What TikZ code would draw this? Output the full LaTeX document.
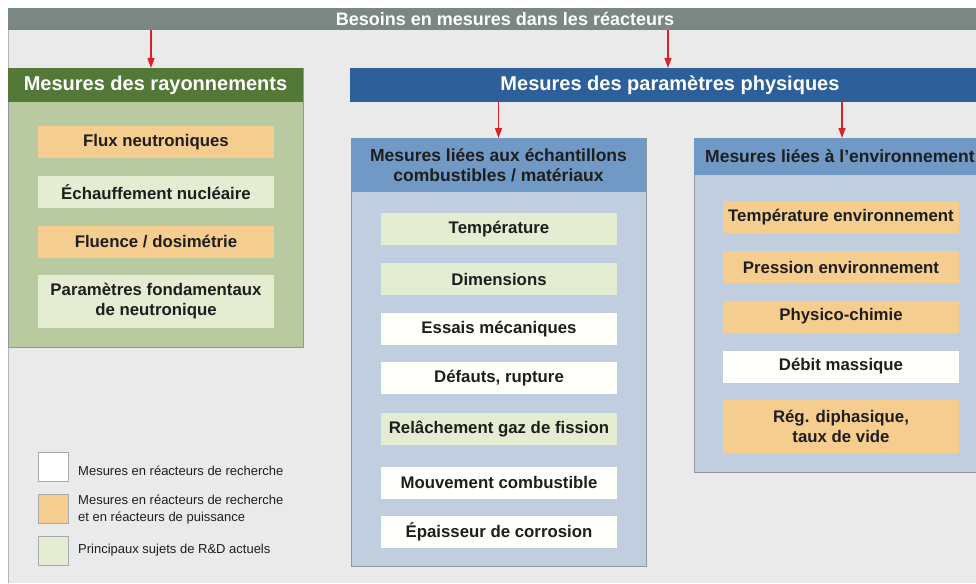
\documentclass[tikz,border=0pt]{standalone}
\usepackage{fontspec}
\setmainfont{Liberation Sans}
\usetikzlibrary{arrows.meta}
\definecolor{bgc}{HTML}{EAEAEA}
\definecolor{barc}{HTML}{7B8785}
\definecolor{gheadc}{HTML}{537838}
\definecolor{gbodyc}{HTML}{B9CAA1}
\definecolor{bheadc}{HTML}{2D5F9B}
\definecolor{sheadc}{HTML}{7099C5}
\definecolor{sbodyc}{HTML}{C1CEE0}
\definecolor{orngc}{HTML}{F5CE8F}
\definecolor{lgrnc}{HTML}{E4EDD1}
\definecolor{whtc}{HTML}{FFFFFC}
\definecolor{arrc}{HTML}{D8232A}
\definecolor{txtc}{HTML}{1E1E1E}
\definecolor{edgec}{HTML}{8F979D}
\begin{document}
\begin{tikzpicture}[x=1pt,y=-1pt,
  box/.style={rectangle, inner sep=0pt, outer sep=0pt, anchor=north west},
  panel/.style={box, draw=edgec, line width=0.8pt},
  item/.style={rectangle, inner sep=0pt, outer sep=0pt, minimum width=236pt, minimum height=32pt,
     font=\fontsize{16.8}{20}\selectfont\bfseries, text=txtc, align=center},
  tall/.style={minimum height=53pt},
  orng/.style={item, fill=orngc},
  lgrn/.style={item, fill=lgrnc},
  wht/.style={item, fill=whtc},
  hdr/.style={font=\fontsize{20}{24}\selectfont\bfseries, text=white},
  shdr/.style={font=\fontsize{17.5}{20}\selectfont\bfseries, text=txtc, align=center},
  legbox/.style={rectangle, inner sep=0pt, minimum width=30pt, minimum height=29pt, draw=edgec!80, line width=0.8pt},
  legtxt/.style={anchor=west, inner sep=0pt, font=\fontsize{13}{17}\selectfont, text=txtc, align=left},
  arr/.style={draw=arrc, line width=1.3pt, -{Triangle[length=10pt,width=7pt]}, arrc}
]
\useasboundingbox (0,0) rectangle (976,583);
\clip (0,0) rectangle (976,583);
\fill[white] (0,0) rectangle (976,583);
% background
\fill[bgc] (8,30) rectangle (1000,583);
\draw[edgec!70, line width=0.8pt] (8.5,30) -- (8.5,583);
% top bar
\node[box, fill=barc, minimum width=994pt, minimum height=22pt] (bar) at (8,8) {};
\node[font=\fontsize{18}{20}\selectfont\bfseries, text=white] (bartxt) at (505,19) {Besoins en mesures dans les réacteurs};

% left panel
\node[panel, fill=gbodyc, minimum width=295pt, minimum height=279pt] (gbody) at (8,68) {};
\node[box, fill=gheadc, minimum width=295pt, minimum height=34pt] (ghead) at (8,68) {};
\node[hdr] (ghtxt) at (ghead.center) {Mesures des rayonnements};
\node[orng] (flux) at (156,142) {Flux neutroniques};
\node[lgrn] (echauf) at (156,192) {Échauffement nucléaire};
\node[orng] (fluence) at (156,242) {Fluence / dosimétrie};
\node[lgrn, tall] (param) at (156,301.5) {Paramètres fondamentaux\\de neutronique};

% blue header
\node[box, fill=bheadc, minimum width=640pt, minimum height=34pt] (bhead) at (350,68) {};
\node[hdr] (bhtxt) at (bhead.center) {Mesures des paramètres physiques};

% middle panel
\node[panel, fill=sbodyc, minimum width=295pt, minimum height=428pt] (mbody) at (351,138) {};
\node[box, fill=sheadc, minimum width=295pt, minimum height=54pt] (mhead) at (351,138) {};
\node[shdr] (mhtxt) at (mhead.center) {Mesures liées aux échantillons\\combustibles / matériaux};
\node[lgrn] (temp) at (499,229) {Température};
\node[lgrn] (dim) at (499,279) {Dimensions};
\node[wht] (essais) at (499,329) {Essais mécaniques};
\node[wht] (defauts) at (499,378) {Défauts, rupture};
\node[lgrn] (relach) at (499,429) {Relâchement gaz de fission};
\node[wht] (mouv) at (499,482.5) {Mouvement combustible};
\node[wht] (epais) at (499,532) {Épaisseur de corrosion};

% right panel
\node[panel, fill=sbodyc, minimum width=296pt, minimum height=334pt] (rbody) at (694,138) {};
\node[box, fill=sheadc, minimum width=296pt, minimum height=37pt] (rhead) at (694,138) {};
\node[shdr, anchor=west, inner sep=0pt] (rhtxt) at (705,156.5) {Mesures liées à l'environnement};
\node[orng] (tenv) at (841,217) {Température environnement};
\node[orng] (penv) at (841,267) {Pression environnement};
\node[orng] (phys) at (841,316.5) {Physico-chimie};
\node[wht] (debit) at (841,366.5) {Débit massique};
\node[orng, tall] (regd) at (841,426.5) {Rég. diphasique,\\taux de vide};

% arrows
\draw[arr] (bar.south -| 151,0) -- (ghead.north -| 151,0);
\draw[arr] (bar.south -| 668,0) -- (bhead.north -| 668,0);
\draw[arr] (bhead.south -| mbody.north) -- (mbody.north);
\draw[arr] (bhead.south -| rbody.north) -- (rbody.north);

% legend
\node[legbox, fill=white] (lg1) at (53,466.5) {};
\node[legbox, fill=orngc] (lg2) at (53,509) {};
\node[legbox, fill=lgrnc] (lg3) at (53,550.5) {};
\node[legtxt] (lt1) at (78,471) {Mesures en réacteurs de recherche};
\node[legtxt] (lt2) at (78,510) {Mesures en réacteurs de recherche\\et en réacteurs de puissance};
\node[legtxt] (lt3) at (78,550) {Principaux sujets de R\&D actuels};
\end{tikzpicture}
\end{document}
